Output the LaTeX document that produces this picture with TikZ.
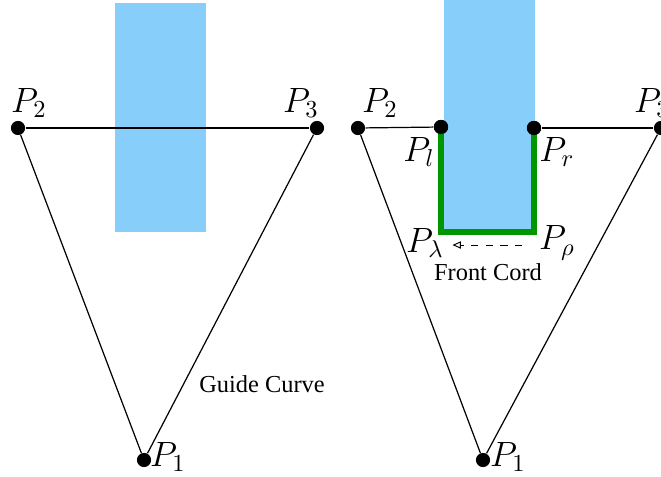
\documentclass[tikz,border=0pt]{standalone}
\usepackage{fontspec}
\setmainfont{Liberation Serif}
\usetikzlibrary{arrows.meta, positioning}
\definecolor{skyfill}{RGB}{135,206,250}
\definecolor{cordgreen}{RGB}{0,150,0}

\begin{document}
\begin{tikzpicture}[
  x=0.41pt, y=-0.41pt,
  dot/.style={circle, fill=black, inner sep=0pt, minimum size=5.8pt},
  ptlabel/.style={font=\Large},
  edge/.style={line width=0.5pt},
  blade/.style={fill=skyfill, draw=none},
  cord/.style={line width=2.8pt, cordgreen},
  front/.style={dashed, line width=0.4pt, -{Triangle[open, length=3.5pt, width=3pt]}}
]
\useasboundingbox (0,0) rectangle (661,477);
% left panel: guide curve and the blade
\fill[blade] (115,3) rectangle (206,232);
\node[dot] (L2) at (18,128)  {};
\node[dot] (L3) at (317,128) {};
\node[dot] (L1) at (144,460) {};
\draw[edge] (L2) -- (L3);
\draw[edge] (L2) -- (L1);
\draw[edge] (L1) -- (L3);
\node[ptlabel] (L2lab) at (29,103)  {$P_2$};
\node[ptlabel] (L3lab) at (301,103) {$P_3$};
\node[ptlabel] (L1lab) at (168,457) {$P_1$};
\node (guide) at (262,384) {Guide Curve};
% right panel: cut blade and the front cord
\fill[blade] (444,0) rectangle (535,232);
\node[dot] (R2) at (358,128) {};
\node[dot] (R3) at (661,128) {};
\node[dot] (R1) at (483,460) {};
\node[dot] (Rl) at (441,127) {};
\node[dot] (Rr) at (534,128) {};
\coordinate (Rlam) at (441,232);
\coordinate (Rrho) at (534,232);
\draw[edge] (R2) -- (Rl);
\draw[edge] (Rr) -- (R3);
\draw[edge] (R2) -- (R1);
\draw[edge] (R1) -- (R3);
\draw[cord] (Rl.center) -- (Rlam) -- (Rrho) -- (Rr.center);
\node[dot] at (Rl) {};
\node[dot] at (Rr) {};
\node[ptlabel] (R2lab)   at (380,103) {$P_2$};
\node[ptlabel] (R3lab)   at (652,103) {$P_3$};
\node[ptlabel] (R1lab)   at (508,457) {$P_1$};
\node[ptlabel] (Rllab)   at (419,152) {$P_l$};
\node[ptlabel] (Rrlab)   at (557,152) {$P_r$};
\node[ptlabel] (Rlamlab) at (425,243) {$P_\lambda$};
\node[ptlabel] (Rrholab) at (557,243) {$P_\rho$};
\draw[front] (Rrholab.west) ++(-8,2) coordinate (fa) -- (Rlamlab.east |- fa);
\node (cordlab) at (488,272) {Front Cord};
\end{tikzpicture}
\end{document}
